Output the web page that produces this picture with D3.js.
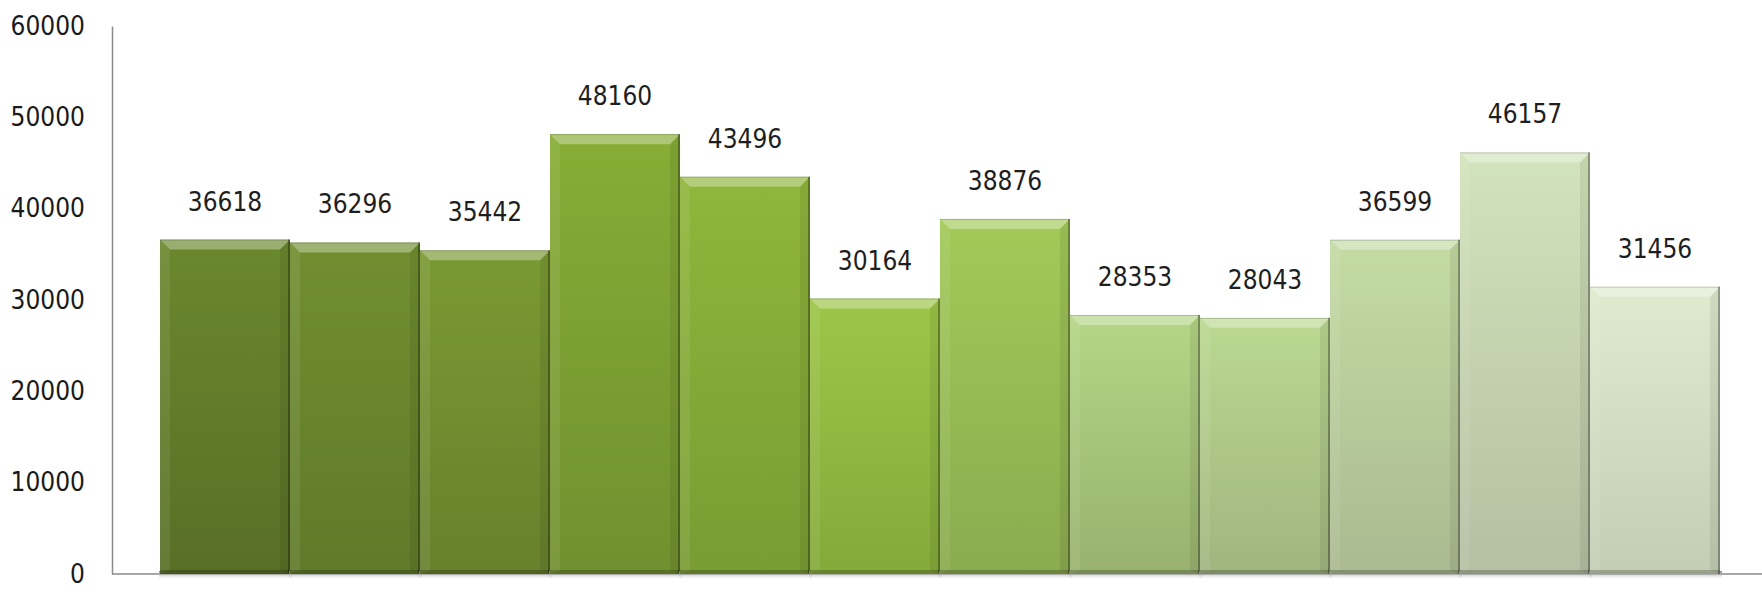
<!DOCTYPE html>
<html lang="en">
<head>
<meta charset="UTF-8">
<title>Bar chart</title>
<script src="https://d3js.org/d3.v7.min.js"></script>
<style>
  body { margin: 0; background: #fff; }
  svg { display: block; }
  .lbl { font-family: "DejaVu Sans Condensed", "DejaVu Sans", sans-serif; font-stretch: condensed; font-size: 26px; fill: #1e1e1e; }
  .axis text { font-family: "DejaVu Sans Condensed", "DejaVu Sans", sans-serif; font-stretch: condensed; font-size: 26px; fill: #1a1a1a; }
  .axis path { stroke: #8a8a8a; stroke-width: 1.5; }
</style>
</head>
<body>
<div id="chart"></div>
<script>
  // data
  const categories = ["1", "2", "3", "4", "5", "6", "7", "8", "9", "10", "11", "12"];
  const values = [36618, 36296, 35442, 48160, 43496, 30164, 38876, 28353, 28043, 36599, 46157, 31456];
  const yTicks = [0, 10000, 20000, 30000, 40000, 50000, 60000];

  // bar colours, dark olive to pale green (top / bottom of each bar)
  const topColors = ["#6a882e", "#718f31", "#7a9a33", "#87ad36", "#90b63c", "#9dc648", "#a3ca58",
                     "#b4d685", "#bbd991", "#c3dca3", "#d2e4bb", "#dfebcf"];
  const bottomColors = ["#586f26", "#5f7a29", "#67812c", "#70902f", "#799c33", "#84a93a", "#8aab4f",
                        "#98b26e", "#a0b57f", "#abba91", "#b5bfa2", "#c3cdb3"];

  const width = 1762, height = 592;
  const svg = d3.select("#chart").append("svg")
    .attr("width", width)
    .attr("height", height);

  svg.append("rect").attr("width", width).attr("height", height).attr("fill", "#fff");

  const x = d3.scaleBand().domain(categories).range([160, 1720]).padding(0);
  const y = d3.scaleLinear().domain([0, 60000]).range([574, 26]);

  const defs = svg.append("defs");
  categories.forEach((c, i) => {
    const g = defs.append("linearGradient")
      .attr("id", "grad" + i)
      .attr("x1", 0).attr("y1", 0).attr("x2", 0).attr("y2", 1);
    g.append("stop").attr("offset", "0%").attr("stop-color", topColors[i]);
    g.append("stop").attr("offset", "100%").attr("stop-color", bottomColors[i]);
  });

  // soft floor shadow
  const shadow = defs.append("linearGradient")
    .attr("id", "shadow").attr("x1", 0).attr("y1", 0).attr("x2", 0).attr("y2", 1);
  shadow.append("stop").attr("offset", "0%").attr("stop-color", "#7e7f78");
  shadow.append("stop").attr("offset", "100%").attr("stop-color", "#ffffff").attr("stop-opacity", 0);

  // axes
  svg.append("g")
    .attr("class", "axis")
    .attr("transform", "translate(112,0)")
    .call(d3.axisLeft(y).tickValues(yTicks).tickSize(0).tickPadding(27).tickFormat(d3.format("d")));

  svg.append("line")
    .attr("x1", 112).attr("x2", width)
    .attr("y1", y(0)).attr("y2", y(0))
    .attr("stroke", "#8a8a8a").attr("stroke-width", 1.5);

  const bw = x.bandwidth();
  const bev = 10;
  const data = categories.map((c, i) => ({ cat: c, value: values[i], i: i }));

  const bars = svg.selectAll(".bar").data(data).enter()
    .append("g").attr("class", "bar");

  bars.append("rect")
    .attr("x", d => x(d.cat) - 1)
    .attr("y", y(0) - 3)
    .attr("width", bw + 3)
    .attr("height", 9)
    .attr("fill", "url(#shadow)");

  bars.append("rect")
    .attr("x", d => x(d.cat))
    .attr("y", d => y(d.value))
    .attr("width", bw)
    .attr("height", d => y(0) - y(d.value))
    .attr("fill", d => "url(#grad" + d.i + ")");

  // top bevel
  bars.append("polygon")
    .attr("points", d => {
      const x0 = x(d.cat), x1 = x0 + bw, t = y(d.value);
      return [[x0, t], [x1, t], [x1 - bev, t + bev], [x0 + bev, t + bev]].join(" ");
    })
    .attr("fill", "#fff").attr("fill-opacity", 0.32);

  // left bevel
  bars.append("polygon")
    .attr("points", d => {
      const x0 = x(d.cat), t = y(d.value), b = y(0);
      return [[x0, t], [x0 + bev, t + bev], [x0 + bev, b - 4], [x0, b]].join(" ");
    })
    .attr("fill", "#fff").attr("fill-opacity", 0.08);

  // right bevel
  bars.append("polygon")
    .attr("points", d => {
      const x1 = x(d.cat) + bw, t = y(d.value), b = y(0);
      return [[x1, t], [x1, b], [x1 - bev, b - 4], [x1 - bev, t + bev]].join(" ");
    })
    .attr("fill", "#000").attr("fill-opacity", 0.07);

  // right edge line
  bars.append("line")
    .attr("x1", d => x(d.cat) + bw - 1).attr("x2", d => x(d.cat) + bw - 1)
    .attr("y1", d => y(d.value)).attr("y2", y(0))
    .attr("stroke", "#000").attr("stroke-opacity", 0.3).attr("stroke-width", 2);

  // top edge line
  bars.append("line")
    .attr("x1", d => x(d.cat)).attr("x2", d => x(d.cat) + bw)
    .attr("y1", d => y(d.value) + 0.5).attr("y2", d => y(d.value) + 0.5)
    .attr("stroke", "#000").attr("stroke-opacity", 0.18);

  // bottom strip
  bars.append("rect")
    .attr("x", d => x(d.cat))
    .attr("y", y(0) - 4)
    .attr("width", bw)
    .attr("height", 4)
    .attr("fill", "#000").attr("fill-opacity", 0.22);

  // value labels
  svg.selectAll(".lbl").data(data).enter()
    .append("text")
    .attr("class", "lbl")
    .attr("x", d => x(d.cat) + bw / 2)
    .attr("y", d => y(d.value) - 29)
    .attr("text-anchor", "middle")
    .text(d => d.value);
</script>
</body>
</html>
